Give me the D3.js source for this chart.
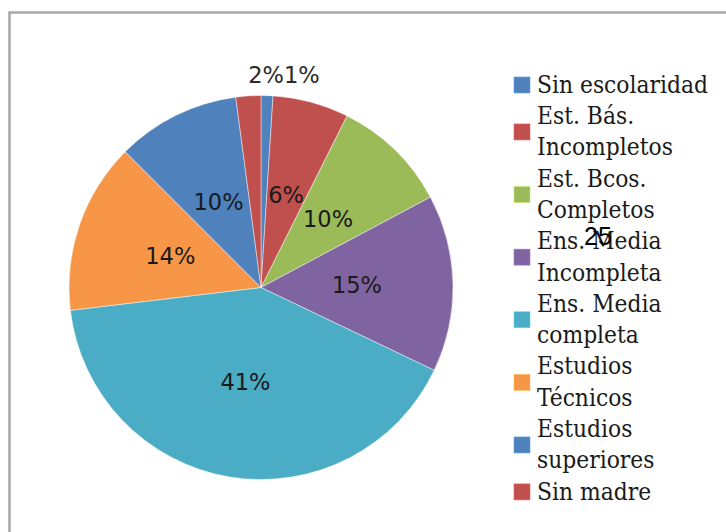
<!DOCTYPE html>
<html>
<head>
<meta charset="utf-8">
<script src="https://cdn.jsdelivr.net/npm/d3@7"></script>
<style>
  html, body { margin: 0; padding: 0; background: #fff; }
  svg { display: block; }
</style>
</head>
<body>
<svg id="chart" width="726" height="532"></svg>
<script>
// ---- data ----
const categories = ["Sin escolaridad", "Est. Bás. Incompletos", "Est. Bcos. Completos", "Ens. Media Incompleta",
                    "Ens. Media completa", "Estudios Técnicos", "Estudios superiores", "Sin madre"];
const values = [1.0, 6.4, 9.8, 14.9, 41.0, 14.4, 10.4, 2.1];
const colors = ["#4F81BD", "#C0504D", "#9BBB59", "#8064A2", "#4BACC6", "#F79646", "#4F81BD", "#C0504D"];
const pageNumber = "25";

// ---- layout ----
const svg = d3.select("#chart");
const cx = 261, cy = 287.5, R = 192;

// chart frame (only top/left edges visible in crop)
svg.append("rect").attr("x", 9.5).attr("y", 12.5).attr("width", 760).attr("height", 560)
  .attr("fill", "none").attr("stroke", "#a6a6a6").attr("stroke-width", 2.5);

const total = d3.sum(values);
const pie = d3.pie().sort(null).value(d => d)(values);
const arc = d3.arc().innerRadius(0).outerRadius(R);
const labelArc = d3.arc().innerRadius(R * 0.5).outerRadius(R * 0.5);
const fmt = d3.format(".0%");

const g = svg.append("g").attr("transform", `translate(${cx},${cy})`);
g.selectAll("path.slice").data(pie).join("path")
  .attr("class", "slice")
  .attr("d", arc)
  .attr("fill", (d, i) => colors[i])
  .attr("stroke", "rgba(255,255,255,0.55)")
  .attr("stroke-width", 0.8);

const labelFont = "'DejaVu Sans', sans-serif";
// inside labels
g.selectAll("text.inlab").data(pie.filter(d => d.value / total >= 0.03)).join("text")
  .attr("class", "inlab")
  .attr("transform", d => `translate(${labelArc.centroid(d)})`)
  .attr("text-anchor", "middle")
  .attr("dy", "0.36em")
  .attr("font-family", labelFont)
  .attr("font-size", 22.5)
  .attr("fill", "#1a1a1a")
  .text(d => fmt(d.value / total));

// small slices: labels outside above the pie, side by side
const small = pie.filter(d => d.value / total < 0.03);
const outY = -R - 13;
small.forEach(d => {
  const mid = (d.startAngle + d.endAngle) / 2;
  const onLeft = mid > Math.PI;
  g.append("text")
    .attr("x", 23)
    .attr("y", outY)
    .attr("text-anchor", onLeft ? "end" : "start")
    .attr("font-family", labelFont)
    .attr("font-size", 22.5)
    .attr("fill", "#2a2a2a")
    .text(fmt(d.value / total));
});

// ---- legend ----
const legFont = "'DejaVu Serif', serif";
const legSize = 24.3;
const lineH = 31.3;
const firstLineY = 84;
const textX = 537, markX = 514, markS = 16;
const maxW = 180;

const leg = svg.append("g");
const measurer = leg.append("text").attr("font-family", legFont).attr("font-size", legSize)
  .style("font-stretch", "condensed");
function wrap(str) {
  const words = str.split(" ");
  const lines = [];
  let cur = "";
  words.forEach(w => {
    const trial = cur ? cur + " " + w : w;
    measurer.text(trial);
    if (measurer.node().getComputedTextLength() > maxW && cur) {
      lines.push(cur); cur = w;
    } else cur = trial;
  });
  if (cur) lines.push(cur);
  return lines;
}
let lineIdx = 0;
categories.forEach((c, i) => {
  const lines = wrap(c);
  const y0 = firstLineY + lineIdx * lineH;
  const yc = y0 + (lines.length - 1) * lineH / 2;
  leg.append("rect").attr("x", markX).attr("y", yc - markS / 2 + 1)
    .attr("width", markS).attr("height", markS)
    .attr("fill", colors[i]).attr("stroke", d3.color(colors[i]).brighter(0.6)).attr("stroke-width", 0.6);
  lines.forEach((ln, k) => {
    leg.append("text").attr("x", textX).attr("y", y0 + k * lineH)
      .attr("dy", "0.36em")
      .attr("font-family", legFont).attr("font-size", legSize)
      .style("font-stretch", "condensed")
      .attr("fill", "#1a1a1a")
      .text(ln);
  });
  lineIdx += lines.length;
});
measurer.remove();

// page number overlay (present in the reference image)
svg.append("text").attr("x", 598).attr("y", 245).attr("text-anchor", "middle")
  .attr("font-family", "'Liberation Sans', Arial, sans-serif").attr("font-size", 25)
  .attr("fill", "#000").text(pageNumber);
</script>
</body>
</html>
